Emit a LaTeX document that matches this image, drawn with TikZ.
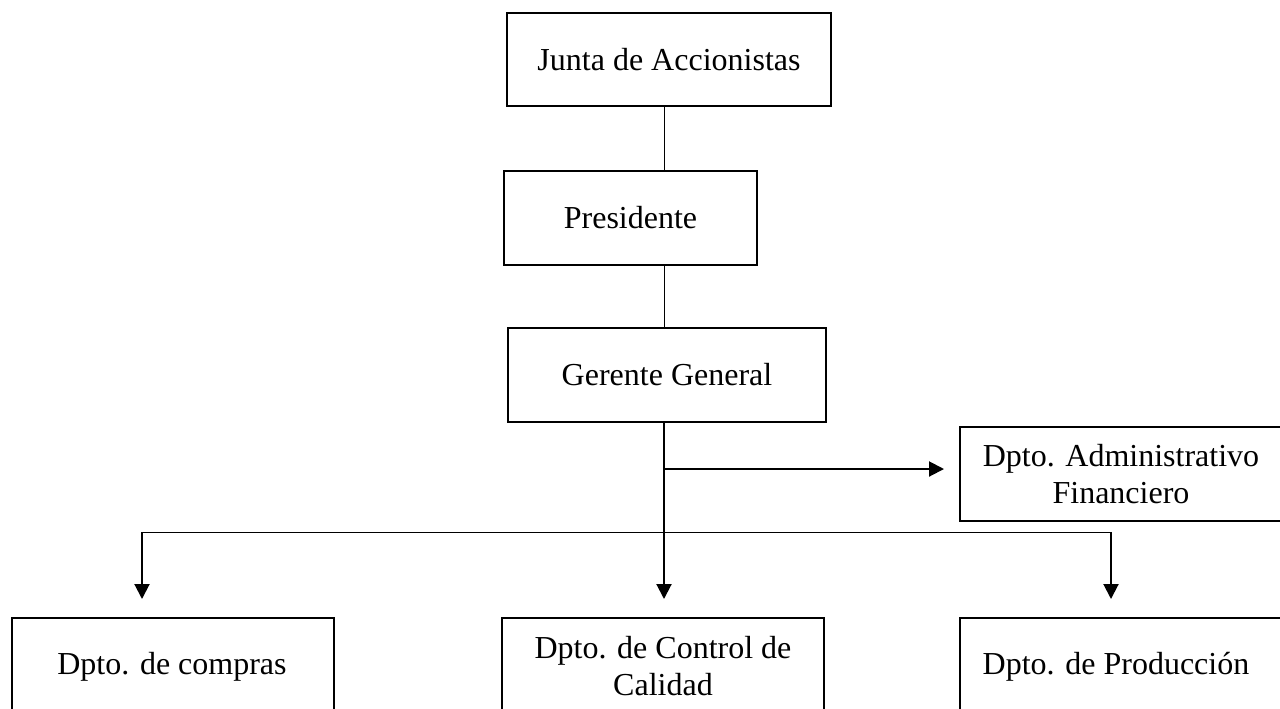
\documentclass[tikz,border=0pt]{standalone}
\usepackage{fontspec}
\setmainfont{Liberation Serif}
\usetikzlibrary{arrows.meta}
\begin{document}
\begin{tikzpicture}[x=0.5pt,y=-0.5pt,
  box/.style={draw=black,line width=1pt,rectangle,inner sep=0pt,align=center,
    font=\fontsize{16}{18.4}\selectfont},
  txt/.style={inner sep=0pt,align=center,font=\fontsize{16}{18.4}\selectfont},
  thinline/.style={line width=0.5pt},
  thickarrow/.style={line width=1pt,-{Triangle[length=7.5pt,width=7.5pt]}},
  thickline/.style={line width=1pt}]
\useasboundingbox (0,0) rectangle (1280,708);
\clip (0,0) rectangle (1280,708);
\fill[white] (0,0) rectangle (1280,708);
% boxes
\node[box,minimum width=162pt,minimum height=46.5pt] (junta) at (669,59.5) {Junta de Accionistas};
\node[box,minimum width=126.5pt,minimum height=47pt] (pres) at (630.5,218) {Presidente};
\node[box,minimum width=159pt,minimum height=47pt] (ger) at (667,375) {Gerente General};
\node[box,minimum width=161pt,minimum height=47pt] (admin) at (1121,474) {Dpto. Administrativo\\Financiero};
\node[box,minimum width=161pt,minimum height=65pt] (comprasbox) at (173,683) {};
\node[box,minimum width=161pt,minimum height=65pt] (ctrlbox) at (663,683) {};
\node[box,minimum width=161pt,minimum height=65pt] (prodbox) at (1121,683) {};
\node[txt] (compras) at (172,667) {Dpto. de compras};
\node[txt] (ctrl) at (663,666) {Dpto. de Control de\\Calidad};
\node[txt] (prod) at (1116,667) {Dpto. de Producción};
% helper coordinates
\coordinate (sp) at (664,0);
\coordinate (branch) at (664,469);
\coordinate (hl) at (142,532);
\coordinate (hr) at (1111,532);
\coordinate (hc) at (664,532);
% connectors
\draw[thinline] (junta.south -| sp) -- (pres.north -| sp);
\draw[thinline] (pres.south -| sp) -- (ger.north -| sp);
\draw[thickarrow,shorten >=9pt] (ger.south -| sp) -- (ctrlbox.north -| sp);
\draw[thickarrow,shorten >=7.5pt] (branch) -- (admin.west |- branch);
\draw[thinline] (hl) -- (hr);
\draw[thickarrow,shorten >=9pt] (hl) -- (comprasbox.north -| hl);
\draw[thickarrow,shorten >=9pt] (hr) -- (prodbox.north -| hr);
\end{tikzpicture}
\end{document}
